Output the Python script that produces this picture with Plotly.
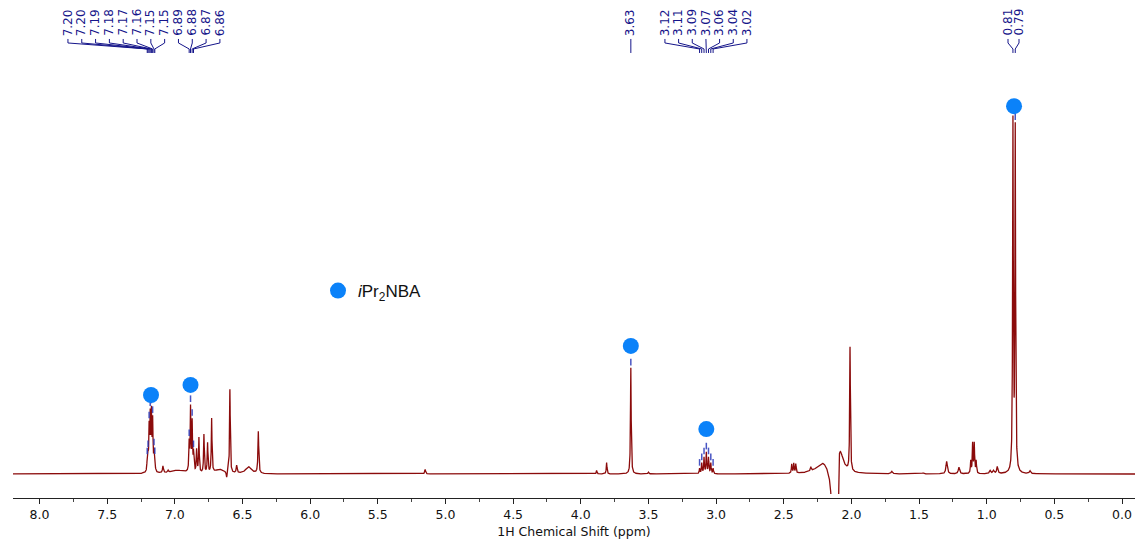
import numpy as np
import plotly.graph_objects as go

# ---------------------------------------------------------------------------
# Peak-picked lines (labelled above the spectrum): shift (ppm) and intensity
# ---------------------------------------------------------------------------
picked_ppm = [7.204, 7.198, 7.190, 7.182, 7.173, 7.164, 7.154, 7.148,
              6.894, 6.884, 6.872, 6.862,
              3.630,
              3.122, 3.106, 3.089, 3.072, 3.056, 3.039, 3.022,
              0.806, 0.789]
picked_int = [3.0, 4.0, 12.0, 15.0, 16.0, 14.0, 5.0, 3.0,
              8.0, 18.0, 14.0, 5.0,
              30.5,
              1.5, 3.0, 4.6, 6.0, 4.6, 3.0, 1.5,
              100.0, 98.0]
picked_hw = 0.003

# Other resolved / broad signals: shift (ppm), intensity, half-width (ppm)
other_ppm = [7.088, 7.050, 6.980, 6.839, 6.822, 6.785, 6.758, 6.728, 6.670,
             6.617, 6.593, 6.543, 6.455, 6.383, 5.150, 3.883, 3.809, 3.500,
             2.441, 2.426, 2.411, 2.300, 2.210, 2.140, 2.085, 2.010, 1.702,
             1.470, 1.296, 1.205, 1.118, 1.104, 1.092, 1.078, 0.975, 0.950,
             0.922, 0.680]
other_int = [2.0, 0.6, 1.0, 6.5, 10.0, 11.0, 8.5, 15.5, 1.2,
             -1.8, 24.0, 2.2, 2.0, 12.0, 1.3, 1.0, 3.3, 0.5,
             2.6, 2.8, 2.6, 1.2, 3.4, -10.0, 7.0, 35.6, 0.7,
             0.3, 3.6, 1.9, 3.5, 8.5, 8.5, 3.5, 0.9, 0.9,
             2.0, 0.8]
other_hw = [0.004, 0.004, 0.06, 0.003, 0.003, 0.003, 0.003, 0.003, 0.04,
            0.004, 0.003, 0.004, 0.025, 0.0035, 0.004, 0.003, 0.003, 0.004,
            0.003, 0.003, 0.003, 0.004, 0.055, 0.02, 0.03, 0.003, 0.006,
            0.006, 0.006, 0.006, 0.003, 0.003, 0.003, 0.003, 0.006, 0.006,
            0.005, 0.006]

# Truncated solvent artefact (deep negative band), Gaussian shape
artefact_ppm = 2.121
artefact_int = -2000.0
artefact_sigma = 0.008

# Compound assignment markers (iPr2NBA signals)
assign_ppm = [7.176, 6.884, 3.630, 3.072, 0.798]
assign_int = [22.7, 25.6, 36.8, 12.9, 105.7]

# Axis ticks
tick_vals = [8.0, 7.5, 7.0, 6.5, 6.0, 5.5, 5.0, 4.5, 4.0, 3.5, 3.0, 2.5, 2.0, 1.5, 1.0, 0.5, 0.0]
tick_text = ["8.0", "7.5", "7.0", "6.5", "6.0", "5.5", "5.0", "4.5", "4.0",
             "3.5", "3.0", "2.5", "2.0", "1.5", "1.0", "0.5", "0.0"]

# ---------------------------------------------------------------------------
# Spectrum built from the line list (Lorentzian lines)
# ---------------------------------------------------------------------------
ppm = np.arange(8.25, -0.15, -0.0005)


def lorentz(x, x0, h, hw):
    return h / (1.0 + ((x - x0) / hw) ** 2)


spec = np.zeros_like(ppm)
for p, h in zip(picked_ppm, picked_int):
    spec += lorentz(ppm, p, h, picked_hw)
for p, h, w in zip(other_ppm, other_int, other_hw):
    spec += lorentz(ppm, p, h, w)
spec += artefact_int * np.exp(-0.5 * ((ppm - artefact_ppm) / artefact_sigma) ** 2)

# ---------------------------------------------------------------------------
# Styling / layout constants
# ---------------------------------------------------------------------------
SPEC_COLOR = "#8b0b0b"
LABEL_COLOR = "#15158a"
PICK_COLOR = "rgba(40,55,185,0.85)"
ASSIGN_COLOR = "#0b82f9"

Y_MIN, Y_MAX = -5.75, 136.2
X_RANGE = [8.196, -0.096]

# Label column: text bottom and connector bends (data units)
LABEL_BOTTOM = 125.6
CONN_Y = [125.0, 123.85, 122.13, 120.98]

# Label slots: (first slot ppm, step, number of labels) per label group
label_groups = [(7.790, -0.1021, 12), (3.630, 0.0, 1), (3.378, -0.101, 7), (0.8426, -0.0813, 2)]
label_x = []
for start, step, n in label_groups:
    label_x += [start + step * k for k in range(n)]

fig = go.Figure()

# Spectrum
fig.add_trace(go.Scatter(
    x=ppm, y=spec, mode="lines",
    line=dict(color=SPEC_COLOR, width=1.3),
    showlegend=False, hoverinfo="skip",
))

# Label connectors
cx, cy = [], []
for lx, p in zip(label_x, picked_ppm):
    cx += [lx, lx, p, p, None]
    cy += [CONN_Y[0], CONN_Y[1], CONN_Y[2], CONN_Y[3], None]
fig.add_trace(go.Scatter(
    x=cx, y=cy, mode="lines",
    line=dict(color=LABEL_COLOR, width=1),
    showlegend=False, hoverinfo="skip",
))

# Peak-pick ticks just above each picked line
local = np.interp(np.array(picked_ppm)[::-1], ppm[::-1], spec[::-1])[::-1]
px_, py_ = [], []
for p, h in zip(picked_ppm, local):
    px_ += [p, p, None]
    py_ += [h + 0.7, h + 2.6, None]
fig.add_trace(go.Scatter(
    x=px_, y=py_, mode="lines",
    line=dict(color=PICK_COLOR, width=1.5),
    showlegend=False, hoverinfo="skip",
))

# Assignment markers (also the legend entry)
fig.add_trace(go.Scatter(
    x=assign_ppm, y=assign_int, mode="markers",
    marker=dict(color=ASSIGN_COLOR, size=16, line=dict(width=0)),
    name="<i>i</i>Pr<sub>2</sub>NBA",
    showlegend=True, hoverinfo="skip",
))

# Shift labels
for lx, p in zip(label_x, picked_ppm):
    fig.add_annotation(
        x=lx, y=LABEL_BOTTOM, xref="x", yref="y",
        text=f"{p:.2f}", textangle=-90, showarrow=False,
        xanchor="center", yanchor="bottom",
        font=dict(family="DejaVu Sans", size=12, color=LABEL_COLOR),
        borderpad=0,
    )

fig.update_layout(
    width=1135, height=539,
    margin=dict(l=13, r=0, t=0, b=41),
    paper_bgcolor="white", plot_bgcolor="white",
    showlegend=True,
    legend=dict(
        x=(318 - 13) / 1122, y=(498 - 291) / 498,
        xanchor="left", yanchor="middle",
        bgcolor="rgba(0,0,0,0)", borderwidth=0,
        font=dict(family="Liberation Sans", size=17, color="#111111"),
    ),
    xaxis=dict(
        range=X_RANGE, anchor="free", position=0,
        showgrid=False, zeroline=False,
        showline=True, linecolor="#222222", linewidth=1,
        ticks="outside", ticklen=5, tickcolor="#222222", tickwidth=1,
        tickvals=tick_vals, ticktext=tick_text,
        minor=dict(dtick=0.25, ticks="outside", ticklen=3, tickcolor="#444444", tickwidth=1),
        tickfont=dict(family="DejaVu Sans", size=12.5, color="#111111"),
        title=dict(text="1H Chemical Shift (ppm)", standoff=9,
                   font=dict(family="DejaVu Sans", size=12.5, color="#111111")),
        automargin=False,
    ),
    yaxis=dict(
        range=[Y_MIN, Y_MAX], domain=[0.008, 1], visible=False,
        showgrid=False, zeroline=False,
    ),
)

fig.write_html("out.html")
